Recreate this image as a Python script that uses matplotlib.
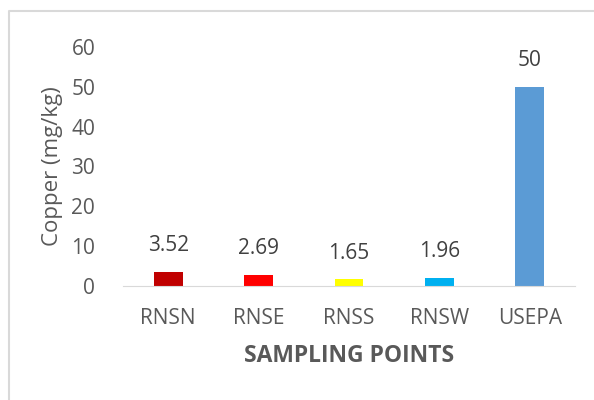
import matplotlib.pyplot as plt
from matplotlib.lines import Line2D

plt.rcParams['font.family'] = ['Open Sans', 'DejaVu Sans']

sites = ['RNSN', 'RNSE', 'RNSS', 'RNSW', 'USEPA']
copper = [3.52, 2.69, 1.65, 1.96, 50]
labels = ['3.52', '2.69', '1.65', '1.96', '50']
colors = ['#C00000', '#FF0000', '#FFFF00', '#00B0F0', '#5B9BD5']

txt = '#595959'

fig = plt.figure(figsize=(5.94, 4), dpi=100)
ax = fig.add_axes([0.207, 0.285, 0.761, 0.5975])

x = range(len(sites))
ax.bar(x, copper, width=0.32, color=colors)
for i, (v, s) in enumerate(zip(copper, labels)):
    ax.annotate(s, (i, v), xytext=(0, 19), textcoords='offset points',
                ha='center', va='center', fontsize=15, color='#404040')

ax.set_xlim(-0.5, len(sites) - 0.5)
ax.set_ylim(0, 60)
ax.set_yticks(range(0, 61, 10))
ax.set_xticks(list(x))
ax.set_xticklabels(sites)
ax.tick_params(axis='both', length=0, labelsize=15, colors=txt)
ax.tick_params(axis='y', pad=20)
ax.tick_params(axis='x', pad=16)

for side in ['top', 'right', 'left']:
    ax.spines[side].set_visible(False)
ax.spines['bottom'].set_color('#d9d9d9')

ax.set_ylabel('Copper (mg/kg)', fontsize=16, color=txt, labelpad=6)
ax.set_xlabel('SAMPLING POINTS', fontsize=16.5, color=txt, fontweight='bold', labelpad=11)

# outer chart frame (top and left edges visible in the crop)
fig.add_artist(Line2D([0.0145, 0.0145, 1.0], [0.0, 0.972, 0.972],
                      transform=fig.transFigure, color='#d9d9d9', lw=1.5))

fig.savefig('out.png', dpi=100)
